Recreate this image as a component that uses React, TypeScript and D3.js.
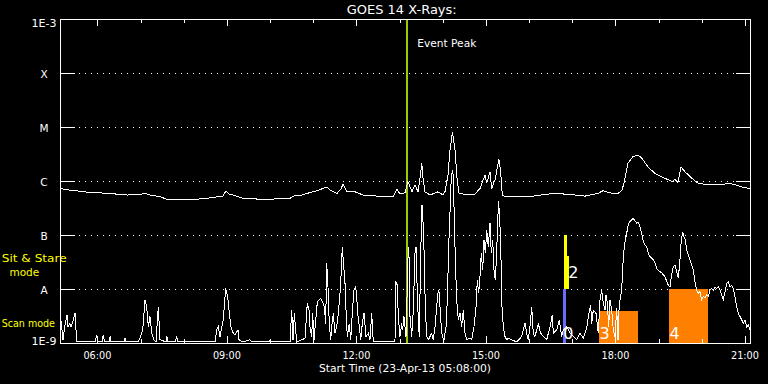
import React from 'react';
import * as d3 from 'd3';

const W = 768;
const H = 384;
const PL = 60, PR = 750, PT = 19, PB = 343;

const TITLE = 'GOES 14 X-Rays:';
const X_TITLE = 'Start Time (23-Apr-13 05:08:00)';
const EVENT_LABEL = 'Event Peak';
const timeDomain = [5 + 8 / 60, 21 + 7 / 60];
const fluxDomain = [1e-9, 1e-3];
const yTickValues = [1e-9, 1e-8, 1e-7, 1e-6, 1e-5, 1e-4, 1e-3];
const yTickLabels = ['1E-9', 'A', 'B', 'C', 'M', 'X', '1E-3'];
const hourTicks = [6, 7, 8, 9, 10, 11, 12, 13, 14, 15, 16, 17, 18, 19, 20, 21];
const labelledHours = [6, 9, 12, 15, 18, 21];
const eventPeakHour = 13 + 10 / 60;

// GOES long channel (1-8 A), decimal UT hours / log10 flux (W/m^2)
const longTime = [5.133, 5.365, 5.597, 5.898, 6.060, 6.407, 6.685, 6.986, 7.102, 7.218, 7.449, 7.612, 7.913, 8.214, 8.376, 8.538, 8.723, 8.909, 8.978, 9.048, 9.140, 9.372, 9.835, 10.229, 10.461, 10.530, 10.692, 10.855, 11.086, 11.318, 11.387, 11.549, 11.642, 11.688, 11.781, 11.966, 12.152, 12.476, 12.847, 12.939, 13.009, 13.125, 13.194, 13.287, 13.356, 13.426, 13.484, 13.512, 13.542, 13.588, 13.704, 13.889, 14.005, 14.051, 14.121, 14.167, 14.225, 14.283, 14.329, 14.375, 14.561, 14.746, 14.862, 14.978, 15.017, 15.094, 15.133, 15.209, 15.302, 15.341, 15.379, 15.418, 15.719, 16.090, 16.553, 16.785, 17.062, 17.294, 17.595, 17.711, 17.920, 18.058, 18.151, 18.197, 18.290, 18.406, 18.522, 18.614, 18.753, 18.915, 19.147, 19.309, 19.378, 19.448, 19.518, 19.610, 19.773, 19.912, 20.143, 20.468, 20.607, 20.769, 20.931, 21.116];
const longLogFlux = [-6.14, -6.17, -6.19, -6.22, -6.22, -6.24, -6.26, -6.25, -6.23, -6.26, -6.29, -6.34, -6.34, -6.35, -6.33, -6.32, -6.30, -6.28, -6.18, -6.24, -6.26, -6.32, -6.34, -6.33, -6.32, -6.28, -6.27, -6.23, -6.18, -6.11, -6.17, -6.23, -6.15, -6.06, -6.20, -6.20, -6.26, -6.28, -6.29, -6.15, -6.24, -6.22, -6.01, -6.20, -6.07, -6.20, -5.89, -5.67, -5.94, -6.20, -6.26, -6.20, -6.26, -6.20, -5.89, -5.43, -5.09, -5.43, -5.94, -6.22, -6.26, -6.24, -6.14, -5.89, -6.04, -5.83, -6.14, -5.98, -5.60, -5.83, -6.26, -6.28, -6.28, -6.28, -6.23, -6.24, -6.26, -6.28, -6.23, -6.18, -6.23, -6.23, -6.17, -6.04, -5.67, -5.55, -5.52, -5.58, -5.74, -5.86, -5.95, -6.01, -5.97, -6.03, -5.74, -5.83, -5.95, -6.04, -6.07, -6.07, -6.04, -6.07, -6.11, -6.14];

// GOES short channel (0.5-4 A)
const shortTime = [5.133, 5.173, 5.203, 5.242, 5.295, 5.319, 5.358, 5.388, 5.428, 5.481, 5.504, 5.527, 5.597, 5.944, 5.983, 6.014, 6.106, 6.136, 6.164, 6.268, 6.292, 6.315, 6.616, 6.639, 6.662, 6.940, 6.986, 7.049, 7.102, 7.142, 7.179, 7.218, 7.258, 7.311, 7.357, 7.410, 7.450, 7.589, 7.612, 7.635, 7.797, 7.837, 7.867, 8.052, 8.724, 8.763, 8.800, 8.840, 8.916, 8.972, 9.018, 9.055, 9.094, 9.117, 9.148, 9.187, 9.233, 9.257, 9.280, 9.372, 9.534, 9.581, 9.975, 9.998, 10.021, 10.461, 10.500, 10.531, 10.561, 10.616, 10.739, 10.809, 10.862, 10.901, 10.924, 10.964, 10.987, 11.017, 11.094, 11.140, 11.172, 11.218, 11.256, 11.288, 11.311, 11.341, 11.371, 11.404, 11.427, 11.464, 11.504, 11.543, 11.580, 11.619, 11.642, 11.672, 11.712, 11.735, 11.758, 11.788, 11.835, 11.867, 11.904, 11.943, 11.983, 12.006, 12.029, 12.066, 12.099, 12.136, 12.175, 12.221, 12.275, 12.314, 12.353, 12.390, 12.893, 12.909, 12.946, 12.970, 13.009, 13.048, 13.071, 13.101, 13.148, 13.201, 13.224, 13.241, 13.280, 13.317, 13.357, 13.380, 13.410, 13.433, 13.456, 13.489, 13.519, 13.549, 13.572, 13.595, 13.628, 13.665, 13.704, 13.743, 13.780, 13.820, 13.859, 13.896, 13.919, 13.952, 13.989, 14.028, 14.075, 14.105, 14.137, 14.167, 14.197, 14.225, 14.244, 14.267, 14.291, 14.323, 14.360, 14.399, 14.438, 14.475, 14.515, 14.554, 14.631, 14.670, 14.723, 14.770, 14.800, 14.832, 14.862, 14.892, 14.925, 14.955, 14.985, 15.018, 15.055, 15.094, 15.124, 15.157, 15.187, 15.217, 15.249, 15.272, 15.295, 15.326, 15.349, 15.372, 15.402, 15.441, 15.481, 15.518, 15.597, 15.712, 15.828, 15.905, 15.944, 15.981, 16.020, 16.060, 16.097, 16.136, 16.213, 16.268, 16.329, 16.407, 16.484, 16.537, 16.560, 16.639, 16.699, 16.755, 16.792, 16.871, 16.947, 17.024, 17.102, 17.179, 17.255, 17.334, 17.371, 17.427, 17.450, 17.487, 17.549, 17.603, 17.642, 17.681, 17.718, 17.758, 17.781, 17.811, 17.844, 17.874, 17.913, 17.950, 17.989, 18.029, 18.059, 18.082, 18.105, 18.145, 18.168, 18.198, 18.228, 18.260, 18.297, 18.337, 18.376, 18.413, 18.453, 18.492, 18.529, 18.569, 18.608, 18.645, 18.684, 18.724, 18.761, 18.800, 18.839, 18.877, 18.916, 18.955, 18.993, 19.032, 19.071, 19.108, 19.147, 19.187, 19.224, 19.263, 19.302, 19.340, 19.379, 19.418, 19.456, 19.495, 19.525, 19.558, 19.588, 19.618, 19.650, 19.687, 19.726, 19.766, 19.803, 19.842, 19.882, 19.919, 19.958, 19.998, 20.035, 20.074, 20.113, 20.151, 20.190, 20.229, 20.267, 20.306, 20.345, 20.382, 20.422, 20.461, 20.498, 20.538, 20.577, 20.614, 20.653, 20.693, 20.730, 20.769, 20.808, 20.846, 20.885, 20.924, 20.962, 21.001, 21.040, 21.077, 21.116];
const shortLogFlux = [-8.42, -8.70, -8.94, -8.70, -8.48, -8.70, -8.64, -8.70, -8.61, -8.44, -8.76, -8.98, -8.98, -8.98, -8.86, -8.98, -8.98, -8.85, -8.98, -8.98, -8.88, -8.98, -8.98, -8.91, -8.98, -8.98, -8.91, -8.76, -8.20, -8.33, -8.70, -8.51, -8.82, -8.94, -8.98, -8.33, -8.94, -8.98, -8.88, -8.98, -8.98, -8.88, -8.98, -8.98, -8.98, -8.76, -8.70, -8.88, -8.57, -7.99, -8.14, -8.45, -8.70, -8.76, -8.82, -8.85, -8.79, -8.76, -8.94, -8.98, -8.94, -8.98, -8.98, -8.94, -8.98, -8.98, -8.39, -8.94, -8.45, -8.98, -8.94, -8.91, -8.26, -8.39, -8.70, -8.88, -8.45, -8.94, -8.24, -8.20, -8.17, -8.24, -8.33, -8.64, -7.51, -7.96, -8.64, -8.94, -8.70, -8.45, -8.82, -8.70, -8.45, -8.08, -7.77, -7.23, -7.65, -7.89, -8.39, -8.88, -8.64, -8.94, -8.45, -8.02, -7.96, -8.14, -8.45, -8.70, -8.94, -8.64, -8.45, -8.88, -8.82, -8.94, -8.45, -8.98, -8.98, -7.86, -7.93, -8.51, -8.88, -8.64, -8.76, -8.51, -8.88, -7.22, -7.46, -8.51, -8.88, -8.39, -7.33, -7.22, -8.08, -8.57, -8.88, -7.34, -6.44, -6.85, -7.46, -8.33, -8.88, -8.94, -8.88, -8.82, -8.94, -8.70, -8.33, -8.02, -8.08, -8.57, -8.88, -8.94, -8.70, -8.20, -7.22, -6.60, -5.92, -5.80, -5.92, -6.72, -7.46, -8.20, -8.57, -8.45, -8.70, -8.39, -8.82, -8.94, -8.91, -8.94, -8.70, -8.33, -7.83, -8.08, -7.77, -7.33, -7.65, -7.09, -7.34, -6.91, -7.22, -6.78, -7.34, -7.09, -7.65, -7.83, -7.34, -6.72, -6.38, -6.85, -7.46, -8.33, -8.70, -8.88, -8.94, -8.91, -8.94, -8.98, -8.88, -8.64, -8.82, -8.94, -8.70, -8.33, -8.82, -8.88, -8.64, -8.82, -8.88, -8.94, -8.70, -8.48, -8.82, -8.76, -8.57, -8.88, -8.76, -8.70, -8.82, -8.88, -8.94, -8.82, -8.91, -8.73, -8.51, -8.30, -8.64, -8.39, -8.45, -8.82, -8.20, -8.02, -8.26, -8.39, -8.11, -8.26, -8.70, -8.20, -8.39, -8.76, -8.88, -8.36, -8.94, -8.39, -8.20, -8.02, -7.59, -7.28, -7.09, -6.97, -6.81, -6.75, -6.72, -6.69, -6.74, -6.78, -6.77, -6.85, -6.97, -7.12, -7.19, -7.22, -7.34, -7.40, -7.43, -7.46, -7.52, -7.62, -7.65, -7.68, -7.70, -7.74, -7.77, -7.86, -7.93, -7.96, -7.74, -7.59, -7.56, -7.68, -7.80, -7.46, -7.09, -6.94, -7.03, -7.09, -7.28, -7.37, -7.46, -7.56, -7.65, -7.86, -8.02, -8.08, -8.05, -8.20, -8.14, -8.17, -8.11, -8.14, -8.02, -7.99, -8.02, -7.96, -7.99, -7.96, -8.02, -8.11, -8.20, -8.05, -7.89, -7.86, -7.96, -7.93, -7.99, -8.14, -8.33, -8.45, -8.51, -8.57, -8.64, -8.57, -8.70, -8.67, -8.76];

// Observation blocks (mode bars and flare boxes)
const blockLabel = ['0', '2', '', '3', '4'];
const blockKind = ['scan', 'stare', 'stare', 'flare', 'flare'];
const blockStart = [16.777, 16.814, 16.870, 17.619, 19.240];
const blockEnd = [16.847, 16.870, 16.923, 18.515, 20.137];
const blockLowLog = [-9, -8, -8, -9, -9];
const blockHighLog = [-8, -7, -7.39, -8.4, -8];

const kindColor: Record<string, string> = { scan: '#6a6aff', stare: '#ffff00', flare: '#ff8000' };
const FONT = 'DejaVu Sans, sans-serif';

function hh(h: number) {
  return String(h).padStart(2, '0') + ':00';
}

export default function App() {
  const x = d3.scaleLinear().domain(timeDomain).range([PL, PR]);
  const y = d3.scaleLog().domain(fluxDomain).range([PB, PT]);

  const line = d3
    .line<[number, number]>()
    .x((d) => x(d[0]))
    .y((d) => y(Math.pow(10, d[1])));

  const longPts = longTime.map((t, i) => [t, longLogFlux[i]] as [number, number]);
  const shortPts = shortTime.map((t, i) => [t, shortLogFlux[i]] as [number, number]);

  const ex = Math.round(x(eventPeakHour));

  return (
    <svg
      width={W}
      height={H}
      style={{ position: 'fixed', left: 0, top: 0, background: '#000' }}
      fontFamily={FONT}
    >
      <rect x={0} y={0} width={W} height={H} fill="#000" />
      <defs>
        <clipPath id="plot">
          <rect x={PL} y={PT} width={PR - PL} height={PB - PT} />
        </clipPath>
      </defs>

      {/* title */}
      <text x={346.7} y={13.5} fill="#fff" fontSize={12} textLength={110} lengthAdjust="spacingAndGlyphs">
        {TITLE}
      </text>

      {/* mode labels */}
      <text x={1.7} y={262} fill="#ffff00" fontSize={10.5} textLength={65} lengthAdjust="spacingAndGlyphs">
        Sit &amp; Stare
      </text>
      <text x={24.3} y={275.5} fill="#ffff00" fontSize={10.5} textAnchor="middle">
        mode
      </text>
      <text x={1.7} y={327.3} fill="#ffff00" fontSize={10.5} textLength={53.3} lengthAdjust="spacingAndGlyphs">
        Scan mode
      </text>

      {/* grid dotted lines */}
      {yTickValues.slice(1, -1).map((v) => {
        const yy = Math.round(y(v)) + 0.5;
        return (
          <line key={'g' + v} x1={79} x2={736} y1={yy} y2={yy} stroke="#fff" strokeDasharray="1 5" shapeRendering="crispEdges" />
        );
      })}

      {/* observation blocks */}
      <g clipPath="url(#plot)">
        {blockStart.map((s, i) => {
          const x0 = x(s);
          const x1 = x(blockEnd[i]);
          const y0 = y(Math.pow(10, blockHighLog[i]));
          const y1 = y(Math.pow(10, blockLowLog[i]));
          return (
            <rect key={'b' + i} x={x0} y={y0} width={x1 - x0} height={y1 - y0} fill={kindColor[blockKind[i]]} shapeRendering="crispEdges" />
          );
        })}
      </g>

      {/* event peak line */}
      <rect x={ex - 1} y={PT} width={2} height={PB - PT} fill="#99cc00" shapeRendering="crispEdges" />
      <text x={417.3} y={47.3} fill="#fff" fontSize={11} textLength={59} lengthAdjust="spacingAndGlyphs">
        {EVENT_LABEL}
      </text>

      {/* curves */}
      <g clipPath="url(#plot)">
        <path d={line(shortPts) || ''} fill="none" stroke="#fff" strokeWidth={1} shapeRendering="crispEdges" />
        <path d={line(longPts) || ''} fill="none" stroke="#fff" strokeWidth={1} shapeRendering="crispEdges" />
      </g>

      {/* block labels */}
      {blockLabel.map((lab, i) => {
        if (!lab) return null;
        const isStare = blockKind[i] === 'stare';
        const lx = isStare ? x(blockEnd[i]) + 1.5 : x(blockStart[i]) + 0.5;
        const ly = y(Math.pow(10, blockLowLog[i])) - (isStare ? 11 : 4.5);
        return (
          <text key={'l' + i} x={lx} y={ly} fill="#fff" fontSize={16}>
            {lab}
          </text>
        );
      })}

      {/* frame */}
      <rect x={PL + 0.5} y={PT + 0.5} width={PR - PL} height={PB - PT} fill="none" stroke="#fff" shapeRendering="crispEdges" />

      {/* y ticks and labels */}
      {yTickValues.map((v, i) => {
        const yy = Math.round(y(v)) + 0.5;
        const off = i === 0 ? 1.5 : i === yTickValues.length - 1 ? 7.7 : 4.5;
        const lab = yTickLabels[i];
        return (
          <g key={'y' + v}>
            {i > 0 && i < yTickValues.length - 1 && (
              <>
                <line x1={PL} x2={75} y1={yy} y2={yy} stroke="#fff" shapeRendering="crispEdges" />
                <line x1={736} x2={PR} y1={yy} y2={yy} stroke="#fff" shapeRendering="crispEdges" />
              </>
            )}
            <text
              x={44}
              y={y(v) + off}
              fill="#fff"
              fontSize={10.5}
              textAnchor="middle"
              {...(lab.length > 1 ? { textLength: 25, lengthAdjust: 'spacingAndGlyphs' } : {})}
            >
              {lab}
            </text>
          </g>
        );
      })}

      {/* x ticks */}
      {hourTicks.map((h) => {
        const xx = Math.round(x(h)) + 0.5;
        const major = labelledHours.includes(h);
        const len = major ? 7 : 4;
        return (
          <g key={'x' + h}>
            <line x1={xx} x2={xx} y1={PT} y2={PT + len} stroke="#fff" shapeRendering="crispEdges" />
            <line x1={xx} x2={xx} y1={PB} y2={PB - len} stroke="#fff" shapeRendering="crispEdges" />
          </g>
        );
      })}
      {labelledHours.map((h) => (
        <text key={'xl' + h} x={x(h)} y={359.3} fill="#fff" fontSize={10.5} textAnchor="middle" textLength={28} lengthAdjust="spacingAndGlyphs">
          {hh(h)}
        </text>
      ))}
      <text x={319} y={371.5} fill="#fff" fontSize={10.5} textLength={172} lengthAdjust="spacingAndGlyphs">
        {X_TITLE}
      </text>
    </svg>
  );
}
